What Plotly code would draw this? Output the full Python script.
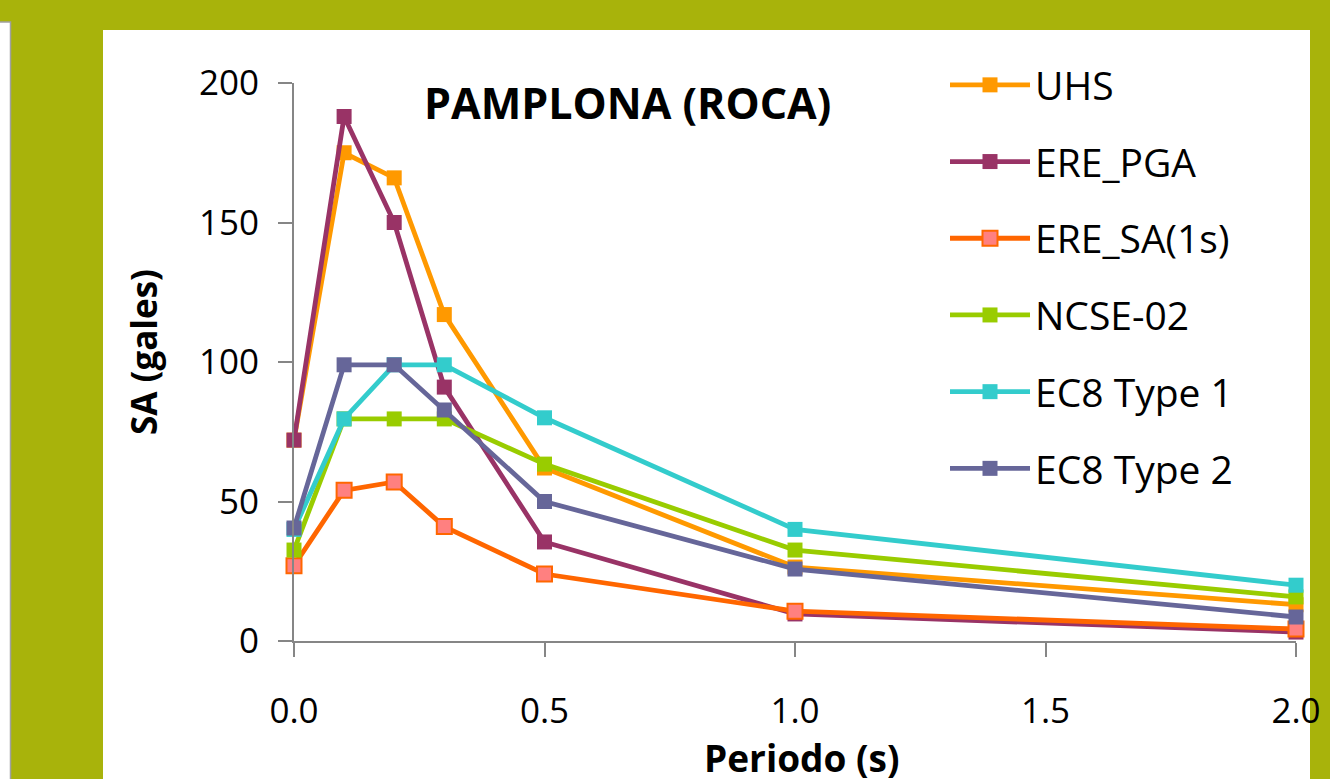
import plotly.graph_objects as go

periodo = [0.0, 0.1, 0.2, 0.3, 0.5, 1.0, 2.0]
uhs = [72, 175, 166, 117, 62, 26.5, 13]
ere_pga = [72, 188, 150, 91, 35.5, 9.7, 3.2]
ere_sa1 = [27, 54, 57, 41, 24, 10.7, 4.3]
ncse02 = [32.6, 79.6, 79.6, 79.6, 63.4, 32.6, 15.8]
ec8_t1 = [40, 79.6, 99, 99, 80, 40, 20]
ec8_t2 = [40.5, 99, 99, 82.8, 50, 25.8, 8.6]

series = [
    ("UHS", uhs, "#FF9900", "#FF9900"),
    ("ERE_PGA", ere_pga, "#993366", "#993366"),
    ("ERE_SA(1s)", ere_sa1, "#FF6600", "#FF8080"),
    ("NCSE-02", ncse02, "#99CC00", "#99CC00"),
    ("EC8 Type 1", ec8_t1, "#33CCCC", "#33CCCC"),
    ("EC8 Type 2", ec8_t2, "#666699", "#666699"),
]

W, H = 1330, 779
L, R, T, B = 294, 34, 83, 138
PW, PH = W - L - R, H - T - B

def px(x):
    return (x - L) / PW

def py(y):
    return (H - B - y) / PH

fig = go.Figure()
for i, (name, vals, lc, mc) in enumerate(series):
    fig.add_trace(go.Scatter(
        x=periodo, y=vals, name=name, mode="lines+markers",
        line=dict(color=lc, width=4.8),
        marker=dict(symbol="square", size=15, color=mc,
                    line=dict(color=lc, width=2 if mc != lc else 0)),
        legendgroup=str(i), cliponaxis=False,
    ))

olive = "#A8B30B"
shapes = [
    dict(type="rect", xref="paper", yref="paper", x0=px(-5), x1=px(10.5),
         y0=py(790), y1=py(22), fillcolor="white",
         line=dict(color="#A0A0A0", width=1.5), layer="below"),
    dict(type="rect", xref="paper", yref="paper", x0=px(103), x1=px(1310),
         y0=py(790), y1=py(30), fillcolor="white", line=dict(width=0),
         layer="below"),
]

annotations = [
    dict(text="<b>PAMPLONA (ROCA)</b>", x=px(627), y=py(102), xref="paper",
         yref="paper", showarrow=False, font=dict(size=43, color="black"),
         xanchor="center", yanchor="middle"),
    dict(text="<b>SA (gales)</b>", x=px(143), y=py(352), xref="paper",
         yref="paper", showarrow=False, textangle=-90,
         font=dict(size=35, color="black"), xanchor="center", yanchor="middle"),
    dict(text="<b>Periodo (s)</b>", x=px(802), y=py(757), xref="paper",
         yref="paper", showarrow=False, font=dict(size=37, color="black"),
         xanchor="center", yanchor="middle"),
]

axis_common = dict(showgrid=False, zeroline=False, showline=True,
                   linecolor="#868686", linewidth=2, ticks="outside",
                   tickcolor="#868686", tickwidth=2, ticklen=14,
                   tickfont=dict(family="Open Sans", size=35, color="black"))

fig.update_layout(
    width=W, height=H,
    margin=dict(l=L, r=R, t=T, b=B, autoexpand=False),
    paper_bgcolor=olive, plot_bgcolor="rgba(0,0,0,0)",
    font=dict(family="Open Sans", color="black"),
    showlegend=True,
    legend=dict(x=px(945), y=py(53), xanchor="left", yanchor="top",
                bgcolor="rgba(0,0,0,0)", font=dict(size=39, color="black"),
                tracegroupgap=23, itemwidth=80, maxheight=700),
    shapes=shapes, annotations=annotations,
    xaxis=dict(range=[0, 2], tickvals=[0, 0.5, 1.0, 1.5, 2.0],
               ticktext=["0.0", "0.5", "1.0", "1.5", "2.0"],
               ticklabelstandoff=24, **axis_common),
    yaxis=dict(range=[0, 200], tickvals=[0, 50, 100, 150, 200],
               ticklabelstandoff=12, **axis_common),
)

fig.write_html("out.html")
